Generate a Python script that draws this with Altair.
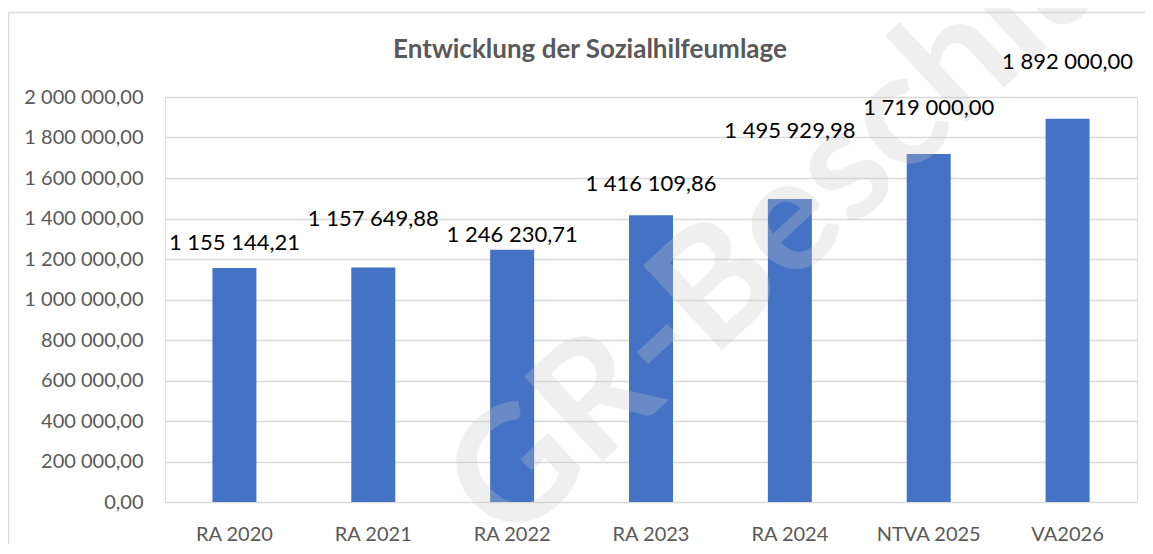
import altair as alt
import pandas as pd

# ---- data ----
categories = ["RA 2020", "RA 2021", "RA 2022", "RA 2023", "RA 2024", "NTVA 2025", "VA2026"]
values = [1155144.21, 1157649.88, 1246230.71, 1416109.86, 1495929.98, 1719000.00, 1892000.00]
y_ticks = [0, 200000, 400000, 600000, 800000, 1000000, 1200000, 1400000, 1600000, 1800000, 2000000]
title_text = "Entwicklung der Sozialhilfeumlage"
watermark_text = "GR-Beschluss"

# ---- style / layout ----
W, H = 972, 405
YMAX = 2000000
label_lift_px = [25, 49, 15, 31, 68, 46, 57]  # manual label placement above bars (pixels)
FONT = "Lato"


def fmt(v):
    s = f"{v:,.2f}"
    return s.replace(",", " ").replace(".", ",")


df = pd.DataFrame({
    "cat": categories,
    "value": values,
    "label": [fmt(v) for v in values],
    "label_pos": [v + lift * YMAX / H for v, lift in zip(values, label_lift_px)],
})

x_enc = alt.X(
    "cat:N", sort=categories,
    scale=alt.Scale(paddingInner=0, paddingOuter=0),
    axis=alt.Axis(title=None, labelAngle=0, ticks=False, domain=False, grid=False,
                  labelFont=FONT, labelFontSize=20, labelColor="#595959", labelPadding=22),
)
y_enc = alt.Y(
    "value:Q",
    scale=alt.Scale(domain=[0, YMAX], nice=False),
    axis=alt.Axis(title=None, values=y_ticks, format=",.2f", ticks=False, domain=False,
                  grid=True, gridColor="#d9d9d9", gridWidth=1.3,
                  labelFont=FONT, labelFontSize=20, labelColor="#595959", labelPadding=22),
)

base = alt.Chart(df)
one = pd.DataFrame({"k": [0]})

border_top = alt.Chart(one).mark_rule(color="#d9d9d9", strokeWidth=1.5).encode(
    x=alt.value(-156.5), x2=alt.value(W + 300), y=alt.value(-84.5))
border_left = alt.Chart(one).mark_rule(color="#d9d9d9", strokeWidth=1.5).encode(
    x=alt.value(-156.5), y=alt.value(-84.5), y2=alt.value(H + 300))

bars = base.mark_bar(size=44, color="#4472C4").encode(x=x_enc, y=y_enc)

watermark = alt.Chart(pd.DataFrame({"t": [watermark_text]})).mark_text(
    font=FONT, fontWeight="bold", fontSize=160, angle=317, color="#c8c8c8", opacity=0.28,
    align="center", baseline="middle"
).encode(x=alt.value(668), y=alt.value(84), text="t:N")

labels = base.mark_text(font=FONT, fontSize=22, color="#000000", baseline="middle", align="center").encode(
    x=alt.X("cat:N", sort=categories),
    y=alt.Y("label_pos:Q"),
    text="label:N",
)

title = alt.Chart(pd.DataFrame({"t": [title_text]})).mark_text(
    font=FONT, fontWeight="bold", fontSize=26, color="#595959", align="center", baseline="middle"
).encode(x=alt.value(425), y=alt.value(-47), text="t:N")

chart = alt.layer(border_top, border_left, bars, watermark, labels, title).properties(
    width=W, height=H, autosize="none",
    padding={"left": 157, "top": 89, "right": 8, "bottom": 42},
).configure_view(stroke=None).configure(
    locale={"number": {"decimal": ",", "thousands": " ", "grouping": [3], "currency": ["", ""]}}
)

chart.save("out.html", embed_options={"renderer": "svg", "actions": False})
